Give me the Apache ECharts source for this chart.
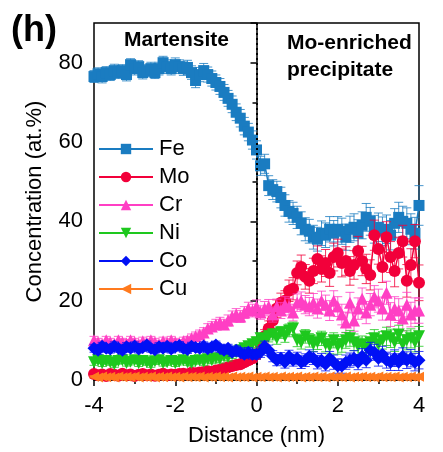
<!DOCTYPE html>
<html><head><meta charset="utf-8">
<script src="https://cdn.jsdelivr.net/npm/echarts@6/dist/echarts.min.js"></script>
<style>html,body{margin:0;padding:0;background:#fff}#c{width:443px;height:452px}</style>
</head><body><div id="c"></div>
<script>
const distance = [-4.0,-3.9,-3.8,-3.7,-3.6,-3.5,-3.4,-3.3,-3.2,-3.1,-3.0,-2.9,-2.8,-2.7,-2.6,-2.5,-2.4,-2.3,-2.2,-2.1,-2.0,-1.9,-1.8,-1.7,-1.6,-1.5,-1.4,-1.3,-1.2,-1.1,-1.0,-0.9,-0.8,-0.7,-0.6,-0.5,-0.4,-0.3,-0.2,-0.1,0.0,0.1,0.2,0.3,0.4,0.5,0.6,0.7,0.8,0.9,1.0,1.1,1.2,1.3,1.4,1.5,1.6,1.7,1.8,1.9,2.0,2.1,2.2,2.3,2.4,2.5,2.6,2.7,2.8,2.9,3.0,3.1,3.2,3.3,3.4,3.5,3.6,3.7,3.8,3.9,4.0];

const fe = [76.5,77.2,76.5,77.5,77,78,77.5,78,77,79.5,78.5,79,77.5,78,78.5,77.5,78.5,80,79,78.5,79.5,79,78.5,78.8,77.5,75.5,77,78,77,76,75,74,72.5,71,69.5,67.5,66,64,62.5,60.5,58,54,54.5,49,48,47.5,46,44,42.5,42,41,39.5,38,37.5,36,35.5,37,36.5,38,37,38,37.5,36,38,38.5,37,39,41,40,38,38.5,37.5,38,36.5,39.5,41,40,39.5,38,37,44];
const feErr = [1.5,1.5,1.6,1.5,1.5,1.6,1.5,1.5,1.6,1.5,1.6,1.5,1.6,1.5,1.6,1.5,1.6,1.6,1.7,1.6,1.7,1.7,1.7,1.8,1.7,1.8,1.8,1.8,1.9,1.9,1.9,2,2,2,2.1,2.1,2.2,2.2,2.2,2.3,2.3,2.4,2.4,2.5,2.5,2.6,2.6,2.7,2.7,2.8,2.8,2.9,2.9,3,3,3,3.1,3.1,3.2,3.2,3.2,3.3,3.3,3.3,3.4,3.4,3.4,3.5,3.5,3.5,3.6,3.6,3.6,3.7,3.7,3.8,3.8,3.9,3.9,4,5];

const mo = [1.5,1.2,1.4,1.0,1.5,1.3,1.1,1.6,1.2,1.4,1.0,1.3,1.5,1.2,1.4,1.1,1.3,1.6,1.2,1.4,1.3,1.5,1.6,1.4,1.8,1.7,1.9,2.0,2.2,2.0,2.4,2.6,2.9,3.2,3.5,3.8,4.0,4.5,5.0,5.5,6.5,9,11,13,15,18,19.5,20,22.5,23,27,28.5,26,25,27.5,30.5,28,29.5,27,31,32,29.5,30,27.5,29,32.5,30,28,26.5,36.5,33,28.5,36,31,27.5,32,35,25,29,35,24.5];
const moErr = [0.4,0.4,0.4,0.4,0.4,0.4,0.4,0.4,0.4,0.4,0.4,0.4,0.4,0.4,0.4,0.4,0.4,0.4,0.4,0.4,0.4,0.5,0.5,0.5,0.5,0.5,0.5,0.6,0.6,0.6,0.7,0.7,0.8,0.8,0.9,0.9,1,1,1.1,1.2,1.3,1.5,1.7,1.9,2,2.2,2.4,2.5,2.7,2.8,3,3,3.1,3.1,3.2,3.3,3.3,3.4,3.4,3.5,3.5,3.5,3.6,3.6,3.6,3.7,3.7,3.7,3.8,3.8,3.8,3.9,3.9,3.9,4,4,4,4.1,4.1,4.2,4.5];

const cr = [10,9.5,9,10,9.5,9,10,9.5,9.2,10,9.5,9,9.8,9.3,10,9.5,9,9.8,9.4,10,9.5,9.2,9.8,10,10.5,11,11.5,12,13,13.5,14,14.5,14,15,16,16.5,16,17,18,17.5,18.5,17,18,18.5,16.5,18.5,17.5,19,18.5,17,19.5,20,19,18.5,19.5,18,20,19,17.5,20,18.5,16.5,14.5,19.5,15,18,20.5,17,19,21,20,18,22,16.5,18,17.5,15.5,19,16.5,17.5,17.5];
const crErr = [1,1,1,1,1,1,1,1,1,1,1,1,1,1,1,1,1,1,1,1,1,1,1,1,1.1,1.1,1.1,1.2,1.2,1.2,1.3,1.3,1.3,1.4,1.4,1.5,1.5,1.5,1.6,1.6,1.7,1.7,1.8,1.8,1.9,1.9,2,2,2.1,2.1,2.2,2.2,2.3,2.3,2.3,2.4,2.4,2.4,2.5,2.5,2.5,2.6,2.6,2.6,2.7,2.7,2.7,2.8,2.8,2.8,2.9,2.9,2.9,3,3,3,3.1,3.1,3.1,3.2,3.2];

const ni = [4.5,5,4.2,4.8,4.5,4,4.8,5,4.3,4.6,5,4.2,4.8,4.5,4,4.7,5,4.3,4.5,4.8,4.2,4.6,5,4.5,4.3,4.8,5,4.6,5.2,5,5.5,5.3,6,5.8,6.5,7,7.5,8,8.5,9,9.5,10.5,10,11,11.5,10.5,12,11,12.5,13,10,9.5,11,10,9,9.5,10.5,9,8.5,10,8.5,9,10,10.5,9.5,8.5,9,8,9.5,10.5,9,10,11,10.5,9.5,11.5,9,10,10.5,9.5,11];
const niErr = [0.8,0.8,0.8,0.8,0.8,0.8,0.8,0.8,0.8,0.8,0.8,0.8,0.8,0.8,0.8,0.8,0.8,0.8,0.8,0.8,0.8,0.8,0.8,0.8,0.8,0.8,0.9,0.9,0.9,0.9,1,1,1,1,1.1,1.1,1.1,1.2,1.2,1.2,1.3,1.3,1.4,1.4,1.4,1.5,1.5,1.5,1.6,1.6,1.6,1.7,1.7,1.7,1.8,1.8,1.8,1.9,1.9,1.9,2,2,2,2,2.1,2.1,2.1,2.1,2.2,2.2,2.2,2.2,2.3,2.3,2.3,2.3,2.4,2.4,2.4,2.4,2.5];

const co = [8,7.5,8.5,8,7.8,8.6,8,7.5,8.4,8,8.6,7.8,8.2,8.8,8,7.6,8.4,8,8.5,7.8,8.3,8.7,8,7.7,8.5,8.2,8,8.6,7.9,8.3,8.8,8,7.5,8,7,7.5,7,6.5,7,6.5,6.5,7,8.5,7.5,6,5,5.5,4.5,6,5,5.5,4.5,5,6,5.5,4.5,5,4,5.5,4.5,3.5,3.5,4.5,5,5.5,4.5,6,5,7.5,7,5.5,6.5,5,4.5,5.5,4.5,6,5,5.5,4.5,5];
const coErr = [1,1,1,1,1,1,1,1,1,1,1,1,1,1,1,1,1,1,1,1,1,1,1,1,1,1,1,1,1,1,1,1,1,1,1,1.1,1.1,1.1,1.2,1.2,1.2,1.3,1.3,1.3,1.4,1.4,1.4,1.5,1.5,1.5,1.5,1.6,1.6,1.6,1.6,1.7,1.7,1.7,1.7,1.8,1.8,1.8,1.8,1.8,1.9,1.9,1.9,1.9,2,2,2,2,2,2.1,2.1,2.1,2.1,2.1,2.2,2.2,2.2];

const cu = [0.8,0.6,0.9,0.7,0.8,0.6,0.9,0.7,0.8,0.7,0.9,0.6,0.8,0.7,0.9,0.6,0.8,0.7,0.9,0.7,0.8,0.6,0.9,0.7,0.8,0.7,0.9,0.6,0.8,0.7,0.9,0.7,0.8,0.6,0.9,0.7,0.8,0.7,0.9,0.6,0.8,0.7,0.9,0.7,0.8,0.6,0.9,0.7,0.8,0.7,0.9,0.6,0.8,0.7,0.9,0.7,0.8,0.6,0.9,0.7,0.8,0.7,0.9,0.6,0.8,0.7,0.9,0.7,0.8,0.6,0.9,0.7,0.8,0.7,0.9,0.6,0.8,0.7,0.9,0.7,0.8];
const cuErr = [0.3,0.3,0.3,0.3,0.3,0.3,0.3,0.3,0.3,0.3,0.3,0.3,0.3,0.3,0.3,0.3,0.3,0.3,0.3,0.3,0.3,0.3,0.3,0.3,0.3,0.3,0.3,0.3,0.3,0.3,0.3,0.3,0.3,0.3,0.3,0.3,0.3,0.3,0.3,0.3,0.3,0.3,0.3,0.3,0.3,0.4,0.4,0.4,0.4,0.4,0.4,0.4,0.4,0.4,0.4,0.4,0.4,0.4,0.4,0.4,0.4,0.4,0.4,0.4,0.4,0.4,0.4,0.4,0.4,0.4,0.4,0.4,0.4,0.4,0.4,0.4,0.4,0.4,0.4,0.4,0.4];

const xTicks = [-4, -2, 0, 2, 4];
const yTicks = [0, 20, 40, 60, 80];

const FONT = '"Liberation Sans", Arial, sans-serif';
const defs = [
  {name: 'Fe', vals: fe, err: feErr, color: '#1a7cc1', symbol: 'rect', size: 11, rot: 0},
  {name: 'Mo', vals: mo, err: moErr, color: '#f2003a', symbol: 'circle', size: 12, rot: 0},
  {name: 'Cr', vals: cr, err: crErr, color: '#ff3fc4', symbol: 'triangle', size: 12, rot: 0},
  {name: 'Ni', vals: ni, err: niErr, color: '#1ec81e', symbol: 'triangle', size: 12, rot: 180},
  {name: 'Co', vals: co, err: coErr, color: '#0010f5', symbol: 'diamond', size: 13, rot: 0},
  {name: 'Cu', vals: cu, err: cuErr, color: '#ff7a1e', symbol: 'triangle', size: 10, rot: 90}
];

const series = [];
defs.forEach((d, k) => {
  series.push({
    type: 'custom', name: d.name + '_err', silent: true, z: 2 + k * 2,
    data: distance.map((x, i) => [x, d.vals[i], d.err[i]]),
    encode: {x: 0, y: 1},
    renderItem: function (params, api) {
      const x = api.value(0), y = api.value(1), e = api.value(2);
      const top = api.coord([x, y + e]);
      const bot = api.coord([x, y - e]);
      const w = 4.5;
      const st = {stroke: d.color, lineWidth: 1, opacity: 0.8};
      return {type: 'group', children: [
        {type: 'line', shape: {x1: top[0], y1: top[1], x2: bot[0], y2: bot[1]}, style: st},
        {type: 'line', shape: {x1: top[0] - w, y1: top[1], x2: top[0] + w, y2: top[1]}, style: st},
        {type: 'line', shape: {x1: bot[0] - w, y1: bot[1], x2: bot[0] + w, y2: bot[1]}, style: st}
      ]};
    }
  });
  const s = {
    type: 'line', name: d.name, z: 3 + k * 2,
    data: distance.map((x, i) => [x, d.vals[i]]),
    symbol: d.symbol, symbolSize: d.size, symbolRotate: d.rot,
    showAllSymbol: true,
    lineStyle: {color: d.color, width: 1.5},
    itemStyle: {color: d.color},
    animation: false
  };
  if (k === defs.length - 1) {
    s.markLine = {
      silent: true, symbol: 'none', label: {show: false},
      lineStyle: {color: '#000', type: [2, 3], width: 2},
      data: [{xAxis: 0}]
    };
  }
  series.push(s);
});

const chart = echarts.init(document.getElementById('c'), null, {renderer: 'canvas'});
chart.setOption({
  animation: false,
  backgroundColor: '#fff',
  grid: {left: 94, right: 24, top: 23, bottom: 72, show: true, borderColor: '#000', borderWidth: 1.5, backgroundColor: 'transparent'},
  xAxis: {
    type: 'value', min: -4, max: 4, interval: 2,
    name: 'Distance (nm)', nameLocation: 'middle', nameGap: 45,
    nameTextStyle: {fontFamily: FONT, fontSize: 22, color: '#000'},
    axisLine: {lineStyle: {color: '#000', width: 1.5}},
    axisTick: {show: true, inside: false, length: 6, lineStyle: {color: '#000', width: 1.5}},
    minorTick: {show: true, splitNumber: 2, length: 4, lineStyle: {color: '#000', width: 1.5}},
    axisLabel: {fontFamily: FONT, fontSize: 22, color: '#000', margin: 15,
      formatter: v => xTicks.includes(v) ? String(v) : ''},
    splitLine: {show: false}
  },
  yAxis: {
    type: 'value', min: 0, max: 90, interval: 20,
    name: 'Concentration (at.%)', nameLocation: 'middle', nameGap: 48,
    nameTextStyle: {fontFamily: FONT, fontSize: 22, color: '#000'},
    axisLine: {show: true, lineStyle: {color: '#000', width: 1.5}},
    axisTick: {show: true, inside: false, length: 6, lineStyle: {color: '#000', width: 1.5}},
    minorTick: {show: true, splitNumber: 2, length: 4, lineStyle: {color: '#000', width: 1.5}},
    axisLabel: {fontFamily: FONT, fontSize: 22, color: '#000', margin: 11,
      formatter: v => yTicks.includes(v) ? String(v) : ''},
    splitLine: {show: false}
  },
  legend: {
    orient: 'vertical', left: 93, top: 133,
    itemWidth: 54, itemHeight: 13, itemGap: 6,
    data: defs.map(d => d.name),
    textStyle: {fontFamily: FONT, fontSize: 22, color: '#000', lineHeight: 22, padding: [0, 0, 0, 1]},
    selectedMode: false
  },
  graphic: [
    {type: 'text', x: 11, y: 13, style: {text: '(h)', font: 'bold 36px ' + FONT, fill: '#000', textVerticalAlign: 'top'}},
    {type: 'text', left: 124, top: 30, style: {text: 'Martensite', font: 'bold 21px ' + FONT, fill: '#000'}},
    {type: 'text', left: 287, top: 30, style: {text: 'Mo-enriched\nprecipitate', font: 'bold 21px ' + FONT, fill: '#000', lineHeight: 27}}
  ],
  series: series
});
</script>
</body></html>
